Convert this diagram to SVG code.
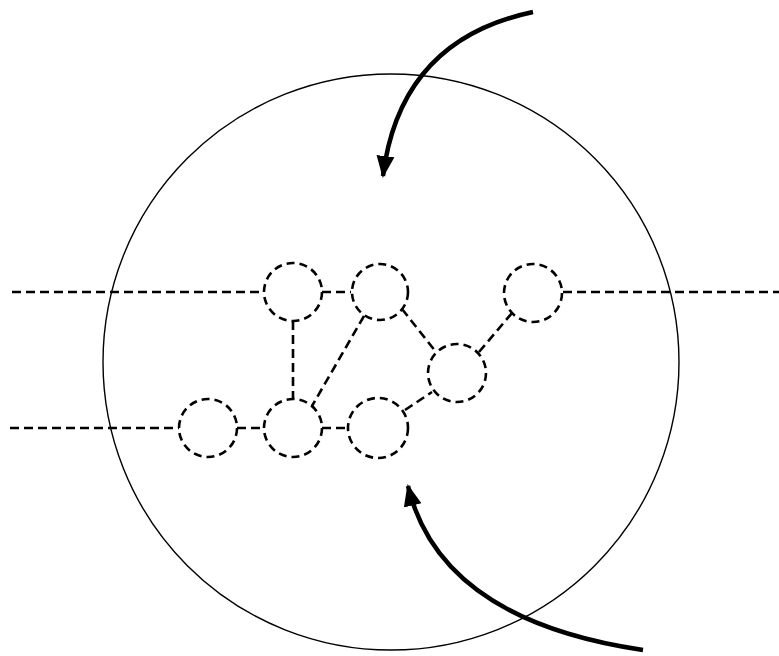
<svg xmlns="http://www.w3.org/2000/svg" width="779" height="656" viewBox="0 0 779 656">
<defs>
<marker id="ah" markerUnits="userSpaceOnUse" markerWidth="22" markerHeight="22" viewBox="0 0 22 22" refX="20" refY="11" orient="auto">
<path d="M0,2 L22,11 L0,20 Z" fill="#000"/>
</marker>
<style>
.node{fill:none;stroke:#000;stroke-width:2.6;stroke-dasharray:8 5}
.edge{fill:none;stroke:#000;stroke-width:2.6;stroke-dasharray:9 5}
.big{fill:none;stroke:#000;stroke-width:1.4}
.arrow{fill:none;stroke:#000;stroke-width:4.5;marker-end:url(#ah)}
</style>
</defs>
<rect width="779" height="656" fill="#fff"/>
<circle class="big" cx="391" cy="362" r="288"/>
<g id="connectors">
<line class="edge" x1="12" y1="292" x2="264" y2="292"/>
<line class="edge" x1="322" y1="292" x2="351" y2="292"/>
<line class="edge" x1="563" y1="292" x2="779" y2="292"/>
<line class="edge" x1="293" y1="321" x2="293" y2="399"/>
<line class="edge" x1="364" y1="316" x2="312" y2="406"/>
<line class="edge" x1="402" y1="309" x2="436" y2="352"/>
<line class="edge" x1="479" y1="352" x2="512" y2="313"/>
<line class="edge" x1="10" y1="428" x2="179" y2="428"/>
<line class="edge" x1="237" y1="428" x2="264" y2="428"/>
<line class="edge" x1="322" y1="428" x2="349" y2="428"/>
<line class="edge" x1="405" y1="410" x2="432" y2="392"/>
<path class="arrow" d="M533,12 Q400,40 383,176"/>
<path class="arrow" d="M643,650 Q440,620 408,486"/>
</g>
<g id="nA"><circle class="node" cx="293" cy="292" r="29"/></g>
<g id="nB"><circle class="node" cx="380" cy="292" r="28"/></g>
<g id="nC"><circle class="node" cx="533" cy="293" r="29"/></g>
<g id="nD"><circle class="node" cx="457" cy="373" r="29"/></g>
<g id="nE"><circle class="node" cx="208" cy="428" r="29"/></g>
<g id="nF"><circle class="node" cx="293" cy="428" r="29"/></g>
<g id="nG"><circle class="node" cx="378" cy="428" r="30"/></g>
</svg>
